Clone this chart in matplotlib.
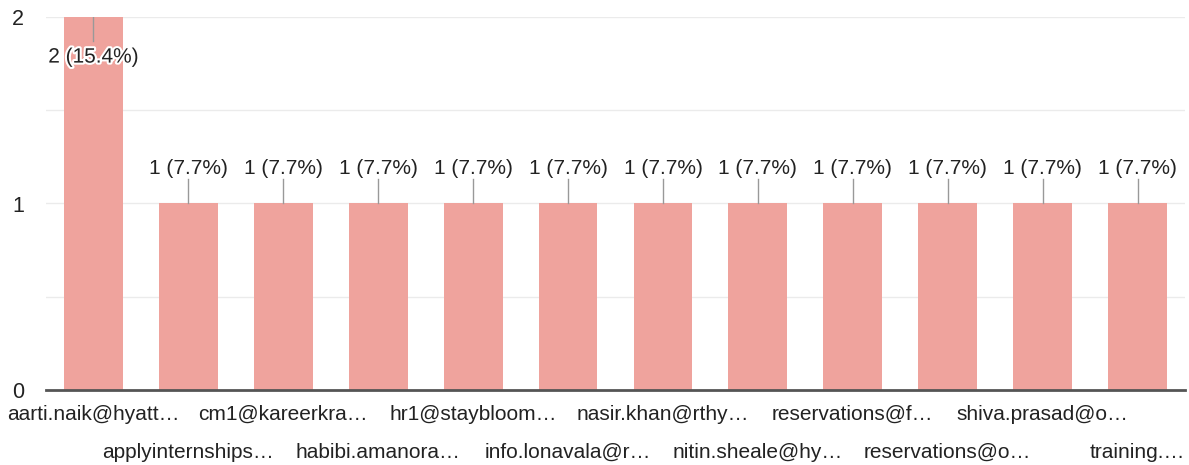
import matplotlib.pyplot as plt
import matplotlib.patheffects as pe

labels = ['aarti.naik@hyatt…', 'applyinternships…', 'cm1@kareerkra…',
          'habibi.amanora…', 'hr1@staybloom…', 'info.lonavala@r…',
          'nasir.khan@rthy…', 'nitin.sheale@hy…', 'reservations@f…',
          'reservations@o…', 'shiva.prasad@o…', 'training.…']
counts = [2, 1, 1, 1, 1, 1, 1, 1, 1, 1, 1, 1]
total = sum(counts)

plt.rcParams['font.family'] = ['Liberation Sans', 'DejaVu Sans']

fig = plt.figure(figsize=(11.89, 4.65), dpi=100)
ax = fig.add_axes([46 / 1189, 75 / 465, 1139 / 1189, 373 / 465])

x = list(range(len(counts)))
ax.bar(x, counts, width=0.62, color='#efa39d', zorder=2)

ax.set_xlim(-0.5, len(counts) - 0.5)
ax.set_ylim(0, max(counts))
ax.set_yticks([0, 1, 2])
ax.set_yticks([0.5, 1.5], minor=True)
ax.grid(axis='y', which='both', color='#ebebeb', linewidth=1, zorder=0)
ax.tick_params(axis='y', which='both', length=0, labelsize=15.5, colors='#222222', pad=16)
ax.tick_params(axis='x', length=0, labelbottom=False)
for s in ['top', 'right', 'left']:
    ax.spines[s].set_visible(False)
ax.spines['bottom'].set_color('#555555')
ax.spines['bottom'].set_linewidth(2)
ax.spines['bottom'].set_zorder(3)

halo = [pe.withStroke(linewidth=3, foreground='white')]
for i, c in enumerate(counts):
    txt = f'{c} ({c / total * 100:.1f}%)'
    if c == max(counts):
        ax.plot([i, i], [c, c - 0.13], color='#999999', lw=1, zorder=3)
        ax.text(i, c - 0.215, txt, ha='center', va='center', fontsize=15,
                color='#222222', path_effects=halo, zorder=4)
    else:
        ax.plot([i, i], [c, c + 0.13], color='#999999', lw=1, zorder=3)
        ax.text(i, c + 0.19, txt, ha='center', va='center', fontsize=15,
                color='#222222', zorder=4)

# staggered category labels
for i, lab in enumerate(labels):
    yoff = -24 if i % 2 == 0 else -62
    ax.annotate(lab, xy=(i, 0), xycoords='data', xytext=(0, yoff),
                textcoords='offset pixels', ha='center', va='center',
                fontsize=15, color='#222222')

fig.savefig('out.png', dpi=100)
